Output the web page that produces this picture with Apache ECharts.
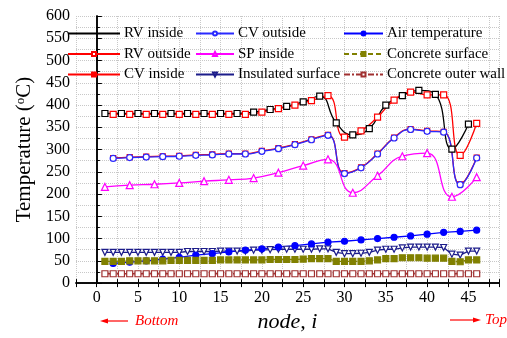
<!DOCTYPE html>
<html>
<head>
<meta charset="utf-8">
<script src="https://cdn.jsdelivr.net/npm/echarts@6/dist/echarts.min.js"></script>
<style>
html, body { margin: 0; padding: 0; background: #fff; }
#chart { width: 507px; height: 338px; }
</style>
</head>
<body>
<div id="chart"></div>
<script>
// node numbers
var nodesOdd = [1, 3, 5, 7, 9, 11, 13, 15, 17, 19, 21, 23, 25, 27, 29, 31, 33, 35, 37, 39, 41, 43, 45];
var nodesEven = [2, 4, 6, 8, 10, 12, 14, 16, 18, 20, 22, 24, 26, 28, 30, 32, 34, 36, 38, 40, 42, 44, 46];
var nodesSP = [1, 4, 7, 10, 13, 16, 19, 22, 25, 28, 31, 34, 37, 40, 43, 46];
var nodesAll = [1, 2, 3, 4, 5, 6, 7, 8, 9, 10, 11, 12, 13, 14, 15, 16, 17, 18, 19, 20, 21, 22, 23,
                24, 25, 26, 27, 28, 29, 30, 31, 32, 33, 34, 35, 36, 37, 38, 39, 40, 41, 42, 43, 44, 45, 46];

// temperatures (oC)
var rvInside = [381, 381, 381, 381, 381, 381, 381, 381, 381, 384, 390, 397, 407, 420, 360, 333, 347, 400, 421, 433, 424, 301, 357];
var rvOutside = [379, 379, 379, 379, 379, 379, 379, 379, 379, 384, 392, 400, 410, 421, 328, 342, 373, 411, 429, 423, 423, 287, 359];
var cvOutside = [280, 282, 283, 284, 285, 287, 288, 290, 290, 296, 302, 311, 322, 332, 246, 259, 290, 326, 345, 341, 339, 221, 281];
var cvInside = [281, 283, 284, 285, 286, 288, 289, 291, 291, 297, 303, 312, 323, 333, 247, 260, 291, 327, 346, 342, 340, 222, 282];
var spInside = [216, 220, 222, 225, 229, 232, 236, 248, 264, 278, 203, 241, 285, 292, 194, 238];
var airTemp = [44, 47, 50, 54, 58, 63, 66, 70, 74, 77, 81, 84, 88, 92, 94, 97, 100, 103, 106, 110, 114, 116, 119];
var insulated = [69, 69, 69, 69, 69, 69, 69, 69, 69, 69, 71, 71, 71, 71, 72, 72, 72, 72, 74, 74, 75, 76, 76,
                 76, 76, 76, 77, 77, 69, 66, 66, 67, 69, 74, 76, 76, 79, 81, 81, 81, 81, 80, 65, 63, 72, 72];
var concreteSurf = [49, 49, 49, 50, 50, 50, 50, 50, 51, 51, 51, 51, 51, 51, 52, 52, 52, 52, 52, 52, 53, 53, 53,
                    53, 54, 55, 55, 55, 49, 49, 49, 49, 50, 52, 55, 55, 57, 57, 57, 56, 56, 56, 49, 48, 52, 52];
var outerWall = [21, 21, 21, 21, 21, 21, 21, 21, 21, 21, 21, 21, 21, 21, 21, 21, 21, 21, 21, 21, 21, 21, 21,
                 21, 21, 21, 21, 21, 21, 21, 21, 21, 21, 21, 21, 21, 21, 21, 21, 21, 21, 21, 21, 21, 21, 21];

function pairs(xs, ys) {
    return xs.map(function (x, i) { return [x, ys[i]]; });
}

var serif = "'Liberation Serif', 'Times New Roman', serif";
var gridColor = '#c8c8c8';

var myChart = echarts.init(document.getElementById('chart'), null, { renderer: 'canvas' });

function lineSeries(name, data, color, symbol, filled, extra) {
    var s = {
        name: name,
        type: 'line',
        data: data,
        symbol: symbol,
        symbolSize: 6,
        lineStyle: { color: color, width: 1.3 },
        itemStyle: { color: filled ? color : '#fff', borderColor: color, borderWidth: 1.2 },
        emphasis: { disabled: true }
    };
    for (var k in extra) s[k] = extra[k];
    return s;
}

function legendBox(names, left, w) {
    return {
        data: names,
        orient: 'vertical', left: left, top: 26, padding: 0,
        itemWidth: w, itemHeight: 5, itemGap: 5.5,
        textStyle: { fontSize: 15, fontFamily: serif, color: '#000', lineHeight: 15, padding: [0, 0, 0, -1] }
    };
}

var option = {
    animation: false,
    backgroundColor: '#fff',
    textStyle: { fontFamily: serif },
    grid: { left: 76, right: 8, top: 16, bottom: 51 },
    legend: [
        legendBox([{ name: 'RV inside', itemStyle: { opacity: 0 } }, 'RV outside', 'CV inside'], 67, 52),
        legendBox(['CV outside', 'SP inside', 'Insulated surface'], 195, 38),
        legendBox(['Air temperature', 'Concrete surface', 'Concrete outer wall'], 343, 39)
    ],
    xAxis: [
        {
            type: 'value', min: -2.5, max: 48.7, interval: 2.5,
            name: 'node, i', nameLocation: 'middle', nameGap: 27,
            nameTextStyle: { fontSize: 22, fontStyle: 'italic', fontFamily: serif, color: '#000' },
            axisLine: { lineStyle: { color: '#000', width: 1.5 } },
            axisTick: { inside: true, length: 4, lineStyle: { color: '#000' } },
            axisLabel: {
                fontSize: 16, fontFamily: serif, color: '#000', margin: 7,
                formatter: function (v) { return Math.abs(v % 5) < 1e-6 ? String(v) : ''; }
            },
            splitLine: { show: true, lineStyle: { color: gridColor, type: 'dotted' } }
        },
        {
            type: 'value', position: 'top', min: -2.5, max: 48.7, interval: 2.5,
            axisLine: { lineStyle: { color: '#000', width: 1.5 } },
            axisTick: { inside: true, length: 4, lineStyle: { color: '#000' } },
            axisLabel: { show: false },
            splitLine: { show: false }
        }
    ],
    yAxis: [
        {
            type: 'value', min: 0, max: 600, interval: 50,
            name: '{t|Temperature (}{s|o}{t|C)}', nameLocation: 'middle', nameGap: 40,
            nameTextStyle: {
                color: '#000',
                rich: {
                    t: { fontSize: 21, fontFamily: serif, color: '#000' },
                    s: { fontSize: 13, fontFamily: serif, color: '#000', padding: [0, 0, 9, 0] }
                }
            },
            axisLine: { show: true, lineStyle: { color: '#000', width: 1.5 } },
            axisTick: { show: true, inside: true, length: 5, lineStyle: { color: '#000' } },
            minorTick: { show: true, splitNumber: 2, length: 3, lineStyle: { color: '#000' } },
            axisLabel: { fontSize: 16, fontFamily: serif, color: '#000', margin: 6 },
            splitLine: { show: true, lineStyle: { color: gridColor, type: 'dotted' } },
            minorSplitLine: { show: true, lineStyle: { color: gridColor, type: 'dotted' } }
        },
        {
            type: 'value', position: 'right', min: 0, max: 600, interval: 50,
            axisLine: { show: true, lineStyle: { color: '#000', width: 1.5 } },
            axisTick: { show: true, inside: false, length: 5, lineStyle: { color: '#000' } },
            minorTick: { show: true, splitNumber: 2, length: 3, lineStyle: { color: '#000' } },
            axisLabel: { show: false },
            splitLine: { show: false }
        }
    ],
    series: [
        lineSeries('RV inside', pairs(nodesOdd, rvInside), '#000000', 'rect', false, { smooth: 0.5 }),
        lineSeries('RV outside', pairs(nodesEven, rvOutside), '#ff0000', 'rect', false, { smooth: 0.5 }),
        lineSeries('CV inside', pairs(nodesEven, cvInside), '#ff0000', 'rect', true, { smooth: 0.5, symbolSize: 5 }),
        lineSeries('CV outside', pairs(nodesEven, cvOutside), '#2a2aff', 'circle', false, { smooth: 0.5 }),
        lineSeries('SP inside', pairs(nodesSP, spInside), '#ff00ff', 'triangle', false, { smooth: 0.5, symbolSize: 7 }),
        lineSeries('Insulated surface', pairs(nodesAll, insulated), '#1c1c8a', 'triangle', false, { symbolSize: 6, symbolRotate: 180 }),
        lineSeries('Air temperature', pairs(nodesEven, airTemp), '#0000ff', 'circle', true, {}),
        lineSeries('Concrete surface', pairs(nodesAll, concreteSurf), '#808000', 'rect', true, {
            lineStyle: { color: '#808000', width: 1.3, type: [5, 3] }
        }),
        lineSeries('Concrete outer wall', pairs(nodesAll, outerWall), '#a03030', 'rect', false, {
            lineStyle: { color: '#a03030', width: 1.3, type: [6, 2, 2, 2] }
        })
    ],
    graphic: [
        { type: 'line', shape: { x1: 106, y1: 321, x2: 128, y2: 321 }, style: { stroke: '#ff0000', lineWidth: 1.2 } },
        { type: 'polygon', shape: { points: [[100, 321], [108, 318.5], [108, 323.5]] }, style: { fill: '#ff0000' } },
        { type: 'text', left: 135, top: 314, style: { text: 'Bottom', fill: '#ff0000', font: 'italic 15px ' + serif } },
        { type: 'line', shape: { x1: 450, y1: 320, x2: 474, y2: 320 }, style: { stroke: '#ff0000', lineWidth: 1.2 } },
        { type: 'polygon', shape: { points: [[481, 320], [473, 317.5], [473, 322.5]] }, style: { fill: '#ff0000' } },
        { type: 'text', left: 485, top: 313, style: { text: 'Top', fill: '#ff0000', font: 'italic 15px ' + serif } }
    ]
};

myChart.setOption(option);
</script>
</body>
</html>
